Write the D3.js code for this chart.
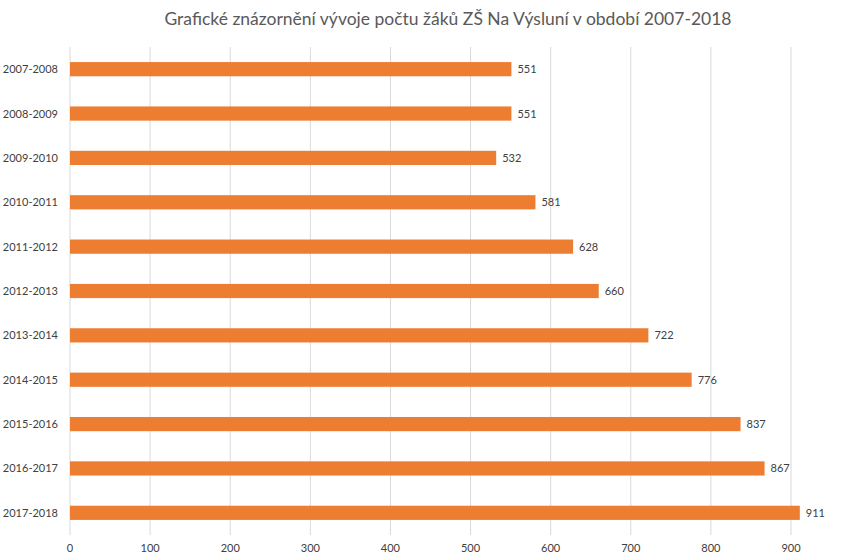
<!DOCTYPE html>
<html><head><meta charset="utf-8">
<script src="https://cdn.jsdelivr.net/npm/d3@7"></script>
<style>body{margin:0;background:#fff}</style></head>
<body><svg id="c" width="855" height="560"></svg>
<script>
const categories=["2007-2008","2008-2009","2009-2010","2010-2011","2011-2012","2012-2013","2013-2014","2014-2015","2015-2016","2016-2017","2017-2018"];
const values=[551,551,532,581,628,660,722,776,837,867,911];
const xTicks=[0,100,200,300,400,500,600,700,800,900];
const title="Grafické znázornění vývoje počtu žáků ZŠ Na Výsluní v období 2007-2018";

const svg=d3.select("#c");
const font="Lato, 'Open Sans', sans-serif";
const x=d3.scaleLinear().domain([0,900]).range([70,791]);
const y=d3.scaleBand().domain(categories).range([47,535]).paddingInner(0.68).paddingOuter(0.34);

svg.append("text").attr("x",448).attr("y",25).attr("text-anchor","middle")
 .attr("font-family",font).attr("font-size",17.5).attr("fill","#595959").text(title);

svg.append("g").selectAll("line").data(xTicks).join("line")
 .attr("x1",d=>x(d)).attr("x2",d=>x(d)).attr("y1",47).attr("y2",535)
 .attr("stroke","#d9d9d9").attr("stroke-width",1);

svg.append("g").selectAll("rect").data(values).join("rect")
 .attr("x",x(0)).attr("y",(d,i)=>y(categories[i])).attr("width",d=>x(d)-x(0))
 .attr("height",y.bandwidth()).attr("fill","#ED7D31");

svg.append("g").selectAll("text").data(values).join("text")
 .attr("x",d=>x(d)+6).attr("y",(d,i)=>y(categories[i])+y.bandwidth()/2+4)
 .attr("font-family",font).attr("font-size",11).attr("fill","#404040").text(d=>d);

svg.append("g").selectAll("text").data(categories).join("text")
 .attr("x",58).attr("y",d=>y(d)+y.bandwidth()/2+4).attr("text-anchor","end")
 .attr("font-family",font).attr("font-size",11).attr("fill","#404040").text(d=>d);

svg.append("g").selectAll("text").data(xTicks).join("text")
 .attr("x",d=>x(d)).attr("y",552).attr("text-anchor","middle")
 .attr("font-family",font).attr("font-size",11).attr("fill","#404040").text(d=>d);
</script></body></html>
